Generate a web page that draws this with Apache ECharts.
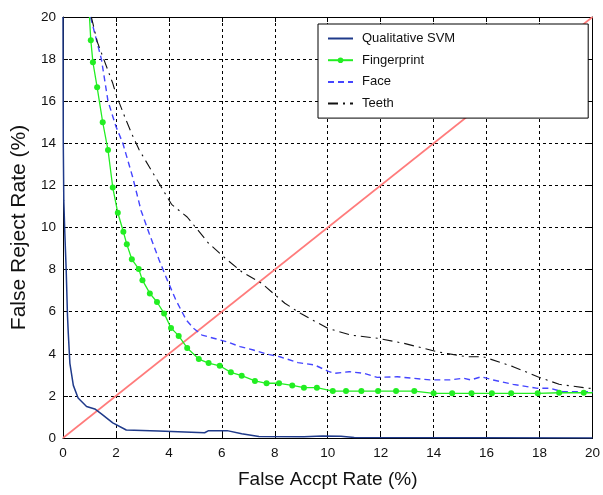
<!DOCTYPE html>
<html>
<head>
<meta charset="utf-8">
<script src="https://cdn.jsdelivr.net/npm/echarts@6/dist/echarts.min.js"></script>
<style>
html,body{margin:0;padding:0;background:#fff;}
#chart{width:603px;height:495px;}
</style>
</head>
<body>
<div id="chart"></div>
<script>
// ---- data ----
var xTicks = [0, 2, 4, 6, 8, 10, 12, 14, 16, 18, 20];
var yTicks = [0, 2, 4, 6, 8, 10, 12, 14, 16, 18, 20];
var seriesNames = ['Qualitative SVM', 'Fingerprint', 'Face', 'Teeth'];

var svmX = [0, 0.01, 0.03, 0.07, 0.12, 0.17, 0.2, 0.26, 0.39, 0.57, 0.89, 1.2, 1.45, 1.88, 2.39, 3.6, 5.35, 5.5, 6.2, 6.75, 7.4, 9.1, 9.8, 10.5, 11.0, 20];
var svmY = [20, 14.1, 11.3, 9.7, 8.0, 5.8, 4.97, 3.55, 2.5, 1.9, 1.5, 1.38, 1.15, 0.72, 0.38, 0.33, 0.25, 0.35, 0.35, 0.2, 0.07, 0.06, 0.1, 0.08, 0.02, 0.0];

var fpX = [1.0, 1.05, 1.13, 1.29, 1.5, 1.70, 1.88, 2.07, 2.28, 2.41, 2.6, 2.86, 3.0, 3.28, 3.55, 3.82, 4.08, 4.37, 4.69, 5.13, 5.5, 5.92, 6.34, 6.75, 7.25, 7.69, 8.16, 8.66, 9.1, 9.59, 10.19, 10.69, 11.27, 11.9, 12.58, 13.27, 14.0, 14.7, 15.43, 16.2, 16.93, 17.93, 18.74, 19.67, 20];
var fpY = [20, 18.9, 17.85, 16.66, 15.0, 13.68, 11.9, 10.7, 9.8, 9.2, 8.49, 8.03, 7.5, 6.87, 6.46, 5.92, 5.23, 4.85, 4.28, 3.75, 3.56, 3.43, 3.12, 2.96, 2.71, 2.6, 2.6, 2.5, 2.39, 2.39, 2.23, 2.23, 2.23, 2.23, 2.23, 2.23, 2.12, 2.12, 2.12, 2.12, 2.12, 2.12, 2.15, 2.15, 2.15];

var faceX = [1.04, 1.45, 1.7, 2.0, 2.26, 2.63, 2.95, 3.26, 3.63, 3.94, 4.26, 4.66, 4.94, 5.25, 5.69, 6.19, 6.69, 7.19, 7.69, 8.19, 8.88, 9.5, 10.0, 10.25, 10.81, 11.37, 11.87, 12.62, 13.87, 14.62, 15.12, 15.4, 15.8, 16.24, 17.0, 17.93, 18.4, 18.87, 19.24, 20];
var faceY = [20, 18, 16.0, 14.8, 14.0, 12.4, 10.8, 9.7, 8.46, 7.5, 6.56, 5.6, 5.2, 4.89, 4.74, 4.57, 4.34, 4.18, 3.99, 3.86, 3.58, 3.47, 3.18, 3.07, 3.15, 3.07, 2.88, 2.91, 2.76, 2.76, 2.84, 2.76, 2.91, 2.76, 2.55, 2.36, 2.36, 2.2, 2.2, 2.2];

var teethX = [1.07, 1.3, 1.88, 2.01, 2.35, 2.58, 2.88, 3.63, 4.1, 4.69, 5.5, 6.13, 6.75, 7.5, 8.38, 9.0, 10.0, 10.87, 11.87, 12.87, 14.12, 15.24, 15.87, 17.0, 17.93, 18.74, 19.86, 20];
var teethY = [20, 18.8, 16.85, 16.3, 15.2, 14.5, 13.68, 12.1, 11.1, 10.5, 9.25, 8.54, 7.9, 7.35, 6.4, 5.9, 5.21, 4.89, 4.74, 4.5, 4.1, 3.86, 3.86, 3.39, 2.91, 2.55, 2.36, 2.35];

var diagX = [0, 20];
var diagY = [0, 20];

// ---- build ----
function zip(xs, ys) { return xs.map(function (x, i) { return [x, ys[i]]; }); }
var fpData = zip(fpX, fpY).map(function (p, i, arr) {
  if (i === 0 || i === arr.length - 1) return { value: p, symbol: 'none' };
  return p;
});

var FONT = 'Liberation Sans';
var axisCommon = {
  type: 'value', min: 0, max: 20, interval: 2,
  axisLine: { show: true, onZero: false, lineStyle: { color: '#000', width: 1 } },
  axisTick: { show: true, inside: true, length: 5, lineStyle: { color: '#000' } }
};

var chart = echarts.init(document.getElementById('chart'), null, { renderer: 'canvas' });
chart.setOption({
  animation: false,
  backgroundColor: '#fff',
  textStyle: { fontFamily: FONT },
  grid: { left: 63, right: 6, top: 17, bottom: 57, containLabel: false },
  legend: {
    data: seriesNames,
    orient: 'vertical',
    left: 318, top: 24,
    padding: [8, 133, 8, 9],
    itemWidth: 25, itemHeight: 7, itemGap: 8.7,
    backgroundColor: '#fff',
    borderColor: '#000', borderWidth: 1,
    textStyle: { fontFamily: FONT, fontSize: 13, lineHeight: 13, color: '#111', padding: [0, 0, 0, 4] },
    z: 20
  },
  xAxis: [
    Object.assign({}, axisCommon, {
      position: 'bottom',
      name: 'False Accpt Rate (%)', nameLocation: 'middle', nameGap: 32,
      nameTextStyle: { fontFamily: FONT, fontSize: 19, color: '#111' },
      axisLabel: { margin: 8, fontFamily: FONT, fontSize: 13.5, color: '#111',
        formatter: function (v) { return xTicks.indexOf(v) >= 0 ? String(v) : ''; } },
      splitLine: { show: true, lineStyle: { color: '#000', type: [3, 3], width: 1 } }
    }),
    Object.assign({}, axisCommon, {
      position: 'top', axisLabel: { show: false }, splitLine: { show: false }
    })
  ],
  yAxis: [
    Object.assign({}, axisCommon, {
      position: 'left',
      name: 'False Reject Rate (%)', nameLocation: 'middle', nameGap: 28,
      nameTextStyle: { fontFamily: FONT, fontSize: 21, color: '#111' },
      axisLabel: { margin: 7, fontFamily: FONT, fontSize: 13.5, color: '#111',
        formatter: function (v) { return yTicks.indexOf(v) >= 0 ? String(v) : ''; } },
      splitLine: { show: true, lineStyle: { color: '#000', type: [3, 3], width: 1 } }
    }),
    Object.assign({}, axisCommon, {
      position: 'right', axisLabel: { show: false }, splitLine: { show: false }
    })
  ],
  series: [
    {
      name: 'diag', type: 'line', data: zip(diagX, diagY), symbol: 'none', silent: true,
      lineStyle: { color: '#ff7b7b', width: 1.6 }, z: 2
    },
    {
      name: seriesNames[0], type: 'line', data: zip(svmX, svmY), symbol: 'none',
      color: '#1f3a8a', itemStyle: { opacity: 0 },
      lineStyle: { color: '#1f3a8a', width: 1.5 }, z: 3
    },
    {
      name: seriesNames[1], type: 'line', data: fpData, symbol: 'circle', symbolSize: 6,
      color: '#22ee22', itemStyle: { color: '#22ee22' },
      lineStyle: { color: '#22ee22', width: 1.3 }, z: 4
    },
    {
      name: seriesNames[2], type: 'line', data: zip(faceX, faceY), symbol: 'none',
      color: '#4545ff', itemStyle: { opacity: 0 },
      lineStyle: { color: '#4545ff', width: 1.4, type: [6, 4] }, z: 3
    },
    {
      name: seriesNames[3], type: 'line', data: zip(teethX, teethY), symbol: 'none',
      color: '#111', itemStyle: { opacity: 0 },
      lineStyle: { color: '#111', width: 1.1, type: [10, 5, 2, 5] }, z: 3
    }
  ]
});
</script>
</body>
</html>
